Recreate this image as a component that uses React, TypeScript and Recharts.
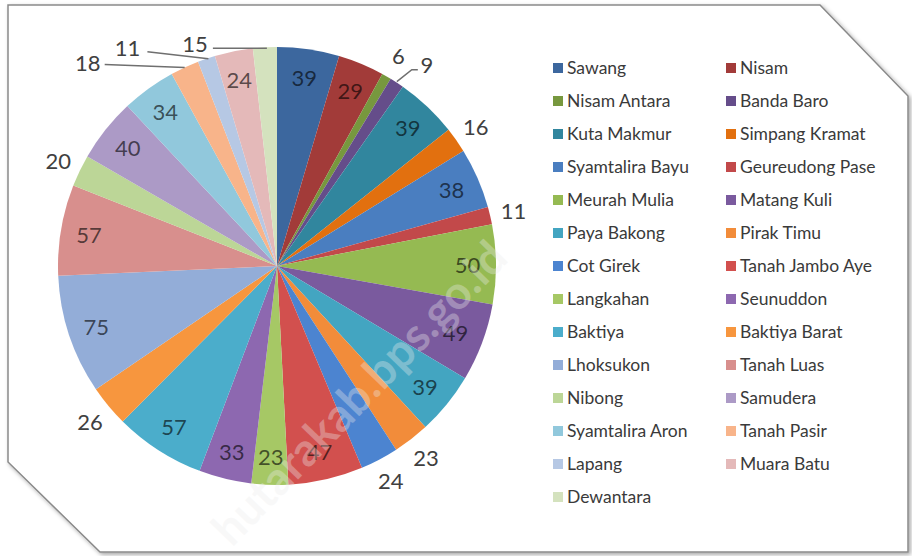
import React from 'react';
import { PieChart, Pie, Cell, Legend } from 'recharts';

const districts = [
  'Sawang', 'Nisam', 'Nisam Antara', 'Banda Baro', 'Kuta Makmur', 'Simpang Kramat',
  'Syamtalira Bayu', 'Geureudong Pase', 'Meurah Mulia', 'Matang Kuli', 'Paya Bakong', 'Pirak Timu',
  'Cot Girek', 'Tanah Jambo Aye', 'Langkahan', 'Seunuddon', 'Baktiya', 'Baktiya Barat',
  'Lhoksukon', 'Tanah Luas', 'Nibong', 'Samudera', 'Syamtalira Aron', 'Tanah Pasir',
  'Lapang', 'Muara Batu', 'Dewantara',
];

const counts = [
  39, 29, 6, 9, 39, 16,
  38, 11, 50, 49, 39, 23,
  24, 47, 23, 33, 57, 26,
  75, 57, 20, 40, 34, 18,
  11, 24, 15,
];

const colors = [
  '#3C679E', '#A23B39', '#77983E', '#654D8A', '#31869E', '#E2700F',
  '#4A7EC0', '#C2494A', '#95BA52', '#7A5A9E', '#43A5C1', '#F28C3A',
  '#4C84D0', '#D2504E', '#A6C865', '#8D68B0', '#4BADCB', '#F7963E',
  '#93ADD8', '#D88F8D', '#BCD697', '#AC9AC6', '#91C8DC', '#F8B48A',
  '#B6C8E4', '#E4B9B9', '#D4E2BE',
];

const data = districts.map((name, i) => ({ name, value: counts[i] }));

// labels drawn just outside the slice
const outsideLabels = ['Nisam Antara', 'Simpang Kramat', 'Geureudong Pase', 'Pirak Timu', 'Cot Girek', 'Baktiya Barat', 'Nibong'];

// labels pulled away with a leader line (offsets from the slice edge)
const leaderLabels: Record<string, { line: number[][]; tx: number; ty: number }> = {
  'Banda Baro': { line: [[0, -1], [15, -13], [21, -13]], tx: 30, ty: -18 },
  'Tanah Pasir': { line: [[0, 0], [-80, -3]], tx: -97, ty: -5 },
  'Lapang': { line: [[2, 0], [-59, -7]], tx: -79, ty: -11 },
  'Dewantara': { line: [[2, 1], [-52, 1]], tx: -70, ty: -4 },
};

const RADIAN = Math.PI / 180;

const renderLabel = (props: any) => {
  const { cx, cy, midAngle, outerRadius, index, value } = props;
  const name = districts[index];
  const cos = Math.cos(-midAngle * RADIAN);
  const sin = Math.sin(-midAngle * RADIAN);
  const textStyle = { fontFamily: 'Lato', fontSize: 22 };

  if (leaderLabels[name]) {
    const l = leaderLabels[name];
    const ex = cx + outerRadius * cos;
    const ey = cy + outerRadius * sin;
    const pts = l.line.map(([dx, dy]) => `${ex + dx},${ey + dy}`).join(' ');
    return (
      <g key={`lbl-${index}`}>
        <polyline points={pts} fill="none" stroke="#6f6f6f" strokeWidth={1.5} />
        <text x={ex + l.tx} y={ey + l.ty} fill="#404040" textAnchor="middle" dominantBaseline="central" style={textStyle}>
          {value}
        </text>
      </g>
    );
  }

  if (outsideLabels.includes(name)) {
    const r = outerRadius + 24;
    return (
      <text key={`lbl-${index}`} x={cx + r * cos} y={cy + r * sin} fill="#404040" textAnchor="middle" dominantBaseline="central" style={textStyle}>
        {value}
      </text>
    );
  }

  const r = outerRadius * 0.87;
  return (
    <text key={`lbl-${index}`} x={cx + r * cos} y={cy + r * sin} fill="#000" fillOpacity={0.62} textAnchor="middle" dominantBaseline="central" style={textStyle}>
      {value}
    </text>
  );
};

const renderLegend = (props: any) => {
  // keep the series order, not the alphabetical one
  const payload = [...props.payload].sort(
    (a: any, b: any) => districts.indexOf(a.value) - districts.indexOf(b.value)
  );
  return (
    <div style={{ display: 'grid', gridTemplateColumns: '173px 173px', gridAutoRows: '33px', fontFamily: 'Lato', fontSize: 17.5, color: '#3a3a3a' }}>
      {payload.map((entry: any, i: number) => (
        <div key={i} style={{ display: 'flex', alignItems: 'center', whiteSpace: 'nowrap' }}>
          <span style={{ display: 'inline-block', width: 10, height: 10, background: entry.color, marginRight: 4 }} />
          <span>{entry.value}</span>
        </div>
      ))}
    </div>
  );
};

export default function App() {
  return (
    <div style={{ position: 'absolute', left: 0, top: 0, width: 912, height: 556, background: '#fff' }}>
      <svg width={912} height={556} style={{ position: 'absolute', left: 0, top: 0 }}>
        <defs>
          <filter id="shadow" x="-5%" y="-5%" width="110%" height="110%">
            <feDropShadow dx="2" dy="2" stdDeviation="2" floodColor="#000" floodOpacity="0.35" />
          </filter>
        </defs>
        <polygon points="8,5 820,5 908,96 908,552 100,552 8,462" fill="#fff" stroke="#8a8a8a" strokeWidth={1.5} filter="url(#shadow)" />
      </svg>
      <div style={{ position: 'absolute', left: 0, top: 0 }}>
        <PieChart width={912} height={556} margin={{ top: 0, right: 0, bottom: 0, left: 0 }}>
          <Pie
            data={data}
            dataKey="value"
            nameKey="name"
            cx={277}
            cy={266}
            outerRadius={219}
            startAngle={90}
            endAngle={-270}
            stroke="none"
            label={renderLabel}
            labelLine={false}
            isAnimationActive={false}
          >
            {data.map((d, i) => (
              <Cell key={d.name} fill={colors[i]} />
            ))}
          </Pie>
          <Legend
            layout="vertical"
            align="right"
            verticalAlign="top"
            content={renderLegend}
            wrapperStyle={{ left: 553, top: 51, width: 355 }}
          />
        </PieChart>
      </div>
      <svg width={912} height={556} style={{ position: 'absolute', left: 0, top: 0, pointerEvents: 'none' }}>
        <text
          x={0}
          y={0}
          transform="translate(232,548) rotate(-46)"
          fill="#ececec"
          fillOpacity={0.35}
          style={{ fontFamily: 'Lato', fontSize: 46, fontWeight: 700 }}
        >
          hutarakab.bps.go.id
        </text>
      </svg>
    </div>
  );
}
